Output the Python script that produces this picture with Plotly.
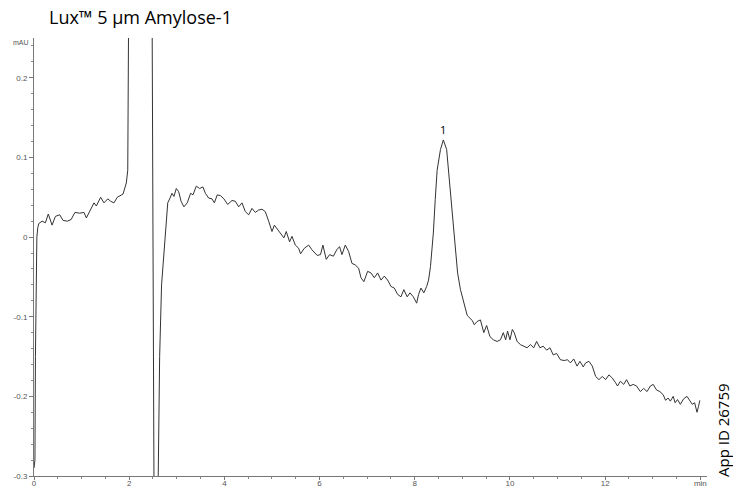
import plotly.graph_objects as go

# Retention time (min) and absorbance (mAU)
time_min = [
    0.00, 0.02, 0.03, 0.04, 0.06, 0.08, 0.10, 0.17, 0.24, 0.30, 0.38, 0.45, 0.54, 0.61, 0.70,
    0.78, 0.86, 0.96, 1.05, 1.10, 1.19, 1.26, 1.31, 1.40, 1.47, 1.55, 1.61, 1.68, 1.75, 1.82,
    1.87, 1.94, 1.97, 1.99, 2.00, 2.47, 2.48, 2.52, 2.53, 2.60, 2.61, 2.64, 2.68, 2.73, 2.76,
    2.81, 2.85, 2.90, 2.94, 2.99, 3.04, 3.09, 3.15, 3.22, 3.29, 3.34, 3.41, 3.48, 3.55, 3.60,
    3.67, 3.74, 3.79, 3.85, 3.92, 3.99, 4.07, 4.16, 4.23, 4.30, 4.37, 4.44, 4.51, 4.58, 4.65,
    4.72, 4.79, 4.86, 4.93, 5.00, 5.05, 5.12, 5.19, 5.25, 5.30, 5.37, 5.42, 5.49, 5.56, 5.60,
    5.68, 5.77, 5.84, 5.95, 6.02, 6.07, 6.14, 6.21, 6.29, 6.36, 6.42, 6.47, 6.54, 6.61, 6.68,
    6.75, 6.82, 6.87, 6.93, 7.01, 7.08, 7.15, 7.22, 7.29, 7.36, 7.43, 7.50, 7.57, 7.64, 7.71,
    7.77, 7.84, 7.90, 7.97, 8.04, 8.08, 8.13, 8.19, 8.25, 8.29, 8.33, 8.39, 8.43, 8.47, 8.54,
    8.60, 8.67, 8.74, 8.82, 8.90, 8.96, 9.03, 9.10, 9.13, 9.21, 9.25, 9.31, 9.38, 9.45, 9.51,
    9.58, 9.65, 9.73, 9.80, 9.86, 9.91, 9.95, 10.00, 10.05, 10.09, 10.15, 10.22, 10.29, 10.36, 10.43,
    10.50, 10.56, 10.63, 10.70, 10.77, 10.84, 10.91, 10.98, 11.06, 11.14, 11.21, 11.27, 11.34, 11.41, 11.47,
    11.54, 11.59, 11.66, 11.73, 11.80, 11.87, 11.94, 12.01, 12.08, 12.15, 12.22, 12.26, 12.32, 12.39, 12.45,
    12.52, 12.59, 12.66, 12.74, 12.81, 12.88, 12.95, 13.01, 13.08, 13.15, 13.22, 13.27, 13.32, 13.37, 13.43,
    13.47, 13.52, 13.58, 13.65, 13.72, 13.77, 13.83, 13.88, 13.93, 13.96, 13.99,
]
signal_mau = [
    -0.29, -0.28, -0.15, -0.05, 0.000, 0.012, 0.017, 0.020, 0.018, 0.029, 0.015, 0.026, 0.028, 0.021, 0.020,
    0.022, 0.031, 0.030, 0.031, 0.024, 0.035, 0.043, 0.039, 0.050, 0.043, 0.048, 0.045, 0.043, 0.050, 0.052,
    0.054, 0.068, 0.084, 0.300, 1.000, 1.000, 0.300, -0.300, -1.000, -1.000, -0.300, -0.150, -0.060, -0.016, 0.001,
    0.043, 0.048, 0.055, 0.051, 0.061, 0.057, 0.045, 0.038, 0.043, 0.055, 0.053, 0.064, 0.061, 0.063, 0.055,
    0.049, 0.048, 0.043, 0.053, 0.052, 0.048, 0.041, 0.046, 0.045, 0.038, 0.043, 0.032, 0.028, 0.036, 0.031,
    0.034, 0.035, 0.032, 0.020, 0.007, 0.015, 0.009, 0.003, -0.001, 0.007, -0.006, 0.001, -0.010, -0.014, -0.021,
    -0.014, -0.010, -0.016, -0.023, -0.022, -0.010, -0.028, -0.022, -0.024, -0.016, -0.012, -0.022, -0.010, -0.018, -0.033,
    -0.035, -0.039, -0.051, -0.056, -0.043, -0.045, -0.051, -0.045, -0.054, -0.049, -0.054, -0.062, -0.064, -0.072, -0.075,
    -0.066, -0.075, -0.070, -0.075, -0.083, -0.072, -0.064, -0.070, -0.062, -0.054, -0.037, 0.005, 0.047, 0.084, 0.110,
    0.122, 0.110, 0.064, 0.001, -0.045, -0.066, -0.083, -0.098, -0.100, -0.105, -0.110, -0.106, -0.104, -0.120, -0.111,
    -0.125, -0.129, -0.131, -0.129, -0.120, -0.129, -0.118, -0.129, -0.116, -0.120, -0.131, -0.135, -0.137, -0.139, -0.135,
    -0.139, -0.131, -0.139, -0.137, -0.142, -0.139, -0.148, -0.146, -0.154, -0.155, -0.154, -0.158, -0.153, -0.162, -0.156,
    -0.163, -0.158, -0.156, -0.162, -0.175, -0.179, -0.175, -0.179, -0.173, -0.177, -0.183, -0.187, -0.181, -0.185, -0.179,
    -0.187, -0.185, -0.187, -0.194, -0.190, -0.194, -0.187, -0.185, -0.192, -0.194, -0.198, -0.205, -0.202, -0.206, -0.200,
    -0.208, -0.204, -0.210, -0.203, -0.200, -0.204, -0.210, -0.208, -0.220, -0.213, -0.205,
]

x_tick_vals = [0, 2, 4, 6, 8, 10, 12, 14]
x_tick_text = ["0", "2", "4", "6", "8", "10", "12", "min"]
y_tick_vals = [-0.3, -0.2, -0.1, 0, 0.1, 0.2]
y_tick_text = ["-0.3", "-0.2", "-0.1", "0", "0.1", "0.2"]

peak_labels = ["1"]
peak_times = [8.60]
peak_heights = [0.122]

W, H = 733, 489
ML, MR, MT, MB = 34, 26, 38, 13
PW, PH = W - ML - MR, H - MT - MB

fig = go.Figure()
fig.add_trace(go.Scatter(
    x=time_min, y=signal_mau, mode="lines",
    line=dict(color="#333333", width=1),
    hoverinfo="skip", showlegend=False,
))

for lab, t, h in zip(peak_labels, peak_times, peak_heights):
    fig.add_annotation(x=t, y=h, text=lab, showarrow=False, yshift=10,
                       font=dict(family="Open Sans", size=11, color="#000000"))

fig.add_annotation(x=0, xref="paper", y=0.244, yref="y", text="mAU", showarrow=False,
                   xanchor="right", xshift=-3,
                   font=dict(family="Liberation Sans", size=7, color="#555555"))

fig.add_annotation(x=(723 - ML) / PW, xref="paper", y=(H - 430 - MB) / PH, yref="paper",
                   text="App ID 26759", textangle=-90, showarrow=False,
                   xanchor="center", yanchor="middle",
                   font=dict(family="Open Sans", size=15, color="#000000"))

fig.update_layout(
    width=W, height=H,
    margin=dict(l=ML, r=MR, t=MT, b=MB, autoexpand=False),
    paper_bgcolor="white", plot_bgcolor="white",
    title=dict(text="Lux™ 5 µm Amylose-1", x=49 / W, xanchor="left",
               y=1 - 18 / H, yanchor="middle",
               font=dict(family="Open Sans", size=18, color="#000000")),
    xaxis=dict(range=[0, 14.14], showgrid=False, zeroline=False, automargin=False,
               showline=True, linecolor="#777777", linewidth=1,
               tickmode="array", tickvals=x_tick_vals, ticktext=x_tick_text,
               ticks="outside", ticklen=3, tickcolor="#777777",
               tickfont=dict(family="Liberation Sans", size=8, color="#555555"),
               minor=dict(dtick=0.5, tick0=0, ticks="outside", ticklen=2, tickcolor="#888888")),
    yaxis=dict(range=[-0.3, 0.25], showgrid=False, zeroline=False, automargin=False,
               showline=True, linecolor="#777777", linewidth=1,
               tickmode="array", tickvals=y_tick_vals, ticktext=y_tick_text,
               ticks="outside", ticklen=4, tickcolor="#777777",
               tickfont=dict(family="Liberation Sans", size=8, color="#555555"),
               minor=dict(dtick=0.02, tick0=0, ticks="outside", ticklen=2, tickcolor="#888888")),
)

try:
    fig.update_xaxes(ticklabelstandoff=-4)
except ValueError:
    fig.update_xaxes(ticklen=1)

# Remove the default page margin so the 733x489 figure fills the window exactly.
page_fix = "document.body.style.margin='0';document.body.style.overflow='hidden';"

fig.write_html("out.html", post_script=page_fix, config={"displayModeBar": False})
